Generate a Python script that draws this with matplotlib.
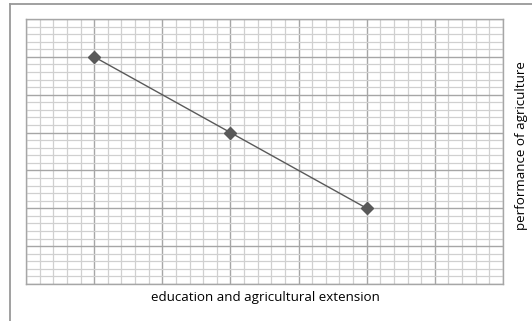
import numpy as np
import matplotlib; matplotlib.use("Agg")
from matplotlib import pyplot as plt
from matplotlib.lines import Line2D
from matplotlib.ticker import MultipleLocator

# chart data (grid units)
x_vals = [1, 3, 5]
y_vals = [6, 4, 2]
x_label = "education and agricultural extension"
y_label = "performance of agriculture"

W, H = 532, 321
fig = plt.figure(figsize=(W / 100, H / 100), dpi=100)
fig.patch.set_facecolor("white")

# plot area in pixels: left 26, top 19, right 503, bottom 284
ax = fig.add_axes([26 / W, 1 - 284 / H, (503 - 26) / W, (284 - 19) / H])
ax.set_xlim(0, 7)
ax.set_ylim(0, 7)
ax.xaxis.set_major_locator(MultipleLocator(1))
ax.yaxis.set_major_locator(MultipleLocator(1))
ax.xaxis.set_minor_locator(MultipleLocator(0.2))
ax.yaxis.set_minor_locator(MultipleLocator(0.2))
ax.grid(which="minor", color="#d0d0d0", linewidth=0.9)
ax.grid(which="major", color="#a6a6a6", linewidth=1.0)
ax.tick_params(which="both", length=0, labelbottom=False, labelleft=False)
ax.set_axisbelow(True)
for s in ax.spines.values():
    s.set_color("#a6a6a6")
    s.set_linewidth(1.0)

ax.plot(x_vals, y_vals, color="#595959", linewidth=1.0, marker="D",
        markersize=6.5, markerfacecolor="#595959", markeredgecolor="#595959",
        zorder=3)

fig.text(265 / W, 1 - 298 / H, x_label, ha="center", va="center",
         fontsize=9.6, family="Open Sans", color="#000000")
fig.text(521 / W, 1 - 146 / H, y_label, ha="center", va="center",
         rotation=90, fontsize=9.6, family="Open Sans", color="#000000")

# outer chart frame (left and top edges visible)
fig.add_artist(Line2D([10 / W, 10 / W], [0, 1 - 3.5 / H], color="#999999",
                      linewidth=1.3, transform=fig.transFigure))
fig.add_artist(Line2D([10 / W, 1], [1 - 3.5 / H, 1 - 3.5 / H], color="#999999",
                      linewidth=1.3, transform=fig.transFigure))

fig.savefig("out.png", dpi=100)
